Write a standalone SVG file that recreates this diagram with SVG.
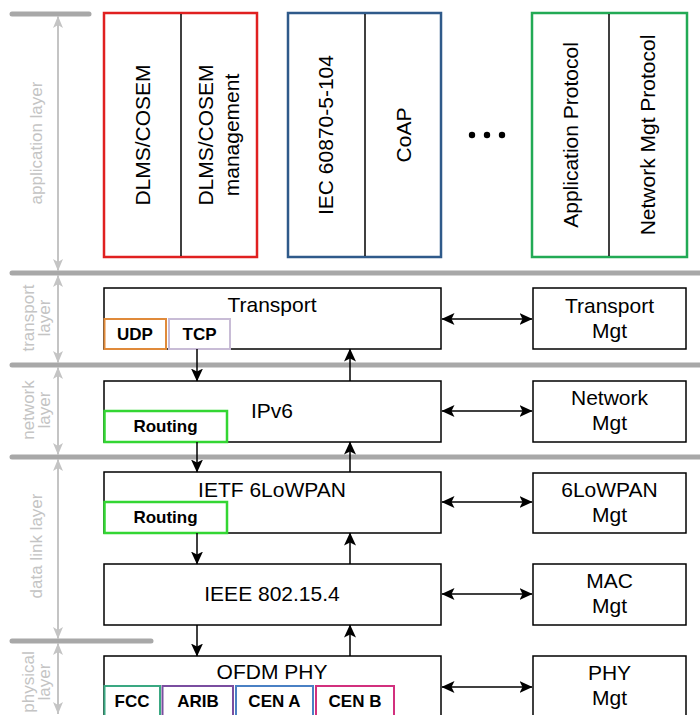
<svg xmlns="http://www.w3.org/2000/svg" width="700" height="715" viewBox="0 0 700 715">
  <defs>
    <marker id="ah" markerUnits="userSpaceOnUse" markerWidth="14" markerHeight="13" refX="12.5" refY="6" orient="auto-start-reverse">
      <path d="M0,0 L13,6 L0,12 L3,6 z" fill="#000"/>
    </marker>
    <marker id="gh" markerUnits="userSpaceOnUse" markerWidth="13" markerHeight="11" refX="12" refY="5" orient="auto-start-reverse">
      <path d="M0,0 L12,5 L0,10 L3,5 z" fill="#c4c4c4"/>
    </marker>
  </defs>
  <style>
    text { font-family: "Liberation Sans", Arial, sans-serif; fill: #000; }
    .big { font-size: 21px; text-anchor: middle; }
    .tag { font-size: 17px; font-weight: bold; text-anchor: middle; }
    .lay { font-size: 17px; fill: #c4c4c4; text-anchor: middle; }
    .box { fill: #fff; stroke: #000; stroke-width: 1.5; }
    .div { stroke: #000; stroke-width: 1.5; }
    .bar { stroke: #a8a8a8; stroke-width: 5; stroke-linecap: round; }
    .span { stroke: #c4c4c4; stroke-width: 2; fill: none; marker-start: url(#gh); marker-end: url(#gh); }
    .flow { stroke: #000; stroke-width: 1.5; fill: none; marker-end: url(#ah); }
    .both { stroke: #000; stroke-width: 1.5; fill: none; marker-start: url(#ah); marker-end: url(#ah); }
  </style>
  <rect width="700" height="715" fill="#fff"/>

  <!-- layer separators -->
  <g id="separators">
    <line class="bar" x1="12" y1="14" x2="89" y2="14"/>
    <line class="bar" x1="12" y1="273" x2="702" y2="273"/>
    <line class="bar" x1="12" y1="365" x2="702" y2="365"/>
    <line class="bar" x1="12" y1="457" x2="702" y2="457"/>
    <line class="bar" x1="12" y1="641" x2="151" y2="641"/>
  </g>

  <!-- layer extents -->
  <g id="layers">
    <line class="span" x1="58" y1="16" x2="58" y2="271"/>
    <text class="lay" transform="translate(42,143) rotate(-90)">application layer</text>
    <line class="span" x1="58" y1="275" x2="58" y2="363"/>
    <text class="lay" transform="translate(34,318) rotate(-90)">transport</text>
    <text class="lay" transform="translate(50,318) rotate(-90)">layer</text>
    <line class="span" x1="58" y1="367" x2="58" y2="455"/>
    <text class="lay" transform="translate(34,410) rotate(-90)">network</text>
    <text class="lay" transform="translate(50,410) rotate(-90)">layer</text>
    <line class="span" x1="58" y1="459" x2="58" y2="639"/>
    <text class="lay" transform="translate(42,546) rotate(-90)">data link layer</text>
    <line class="span" x1="58" y1="643" x2="58" y2="714"/>
    <text class="lay" transform="translate(34,682) rotate(-90)">physical</text>
    <text class="lay" transform="translate(50,682) rotate(-90)">layer</text>
  </g>

  <!-- application layer protocols -->
  <g id="dlms">
    <rect x="104" y="13" width="153" height="244" fill="#fff" stroke="#e02020" stroke-width="2.5"/>
    <line class="div" x1="181" y1="14" x2="181" y2="256"/>
    <text class="big" transform="translate(150,135) rotate(-90)">DLMS/COSEM</text>
    <text class="big" transform="translate(213,135) rotate(-90)">DLMS/COSEM</text>
    <text class="big" transform="translate(239,135) rotate(-90)">management</text>
  </g>
  <g id="iec-coap">
    <rect x="288" y="13" width="153" height="244" fill="#fff" stroke="#2f5a8a" stroke-width="2.5"/>
    <line class="div" x1="365" y1="14" x2="365" y2="256"/>
    <text class="big" transform="translate(333,135) rotate(-90)">IEC 60870-5-104</text>
    <text class="big" transform="translate(411,135) rotate(-90)">CoAP</text>
  </g>
  <g id="ellipsis">
    <circle cx="472" cy="135" r="3.2" fill="#000"/>
    <circle cx="487" cy="135" r="3.2" fill="#000"/>
    <circle cx="502" cy="135" r="3.2" fill="#000"/>
  </g>
  <g id="app-protocol">
    <rect x="532" y="13" width="155" height="244" fill="#fff" stroke="#22aa55" stroke-width="2.5"/>
    <line class="div" x1="609" y1="14" x2="609" y2="256"/>
    <text class="big" transform="translate(578,135) rotate(-90)">Application Protocol</text>
    <text class="big" transform="translate(655,135) rotate(-90)">Network Mgt Protocol</text>
  </g>

  <!-- protocol stack -->
  <g id="transport">
    <rect class="box" x="104" y="288" width="337" height="61"/>
    <text class="big" x="272" y="312">Transport</text>
    <rect x="104.5" y="319" width="61.5" height="30" fill="#fff" stroke="#e08a3a" stroke-width="2"/>
    <text class="tag" x="135" y="340">UDP</text>
    <rect x="169" y="319" width="61" height="30" fill="#fff" stroke="#c8bcd6" stroke-width="2"/>
    <text class="tag" x="199.5" y="340">TCP</text>
  </g>
  <g id="ipv6">
    <rect class="box" x="104" y="381" width="337" height="61"/>
    <text class="big" x="272" y="418">IPv6</text>
    <rect x="104.5" y="411" width="122.5" height="31" fill="#fff" stroke="#33d633" stroke-width="2.5"/>
    <text class="tag" x="165.5" y="432">Routing</text>
  </g>
  <g id="sixlowpan">
    <rect class="box" x="104" y="472" width="337" height="61"/>
    <text class="big" x="272" y="497">IETF 6LoWPAN</text>
    <rect x="104.5" y="502" width="122.5" height="31" fill="#fff" stroke="#33d633" stroke-width="2.5"/>
    <text class="tag" x="165.5" y="523">Routing</text>
  </g>
  <g id="ieee">
    <rect class="box" x="104" y="564" width="337" height="61"/>
    <text class="big" x="272" y="601">IEEE 802.15.4</text>
  </g>
  <g id="ofdm">
    <rect class="box" x="104" y="656" width="337" height="70"/>
    <text class="big" x="272" y="679">OFDM PHY</text>
    <rect x="104.5" y="686" width="55.5" height="35" fill="#fff" stroke="#3aa882" stroke-width="2"/>
    <text class="tag" x="132" y="707">FCC</text>
    <rect x="162.5" y="686" width="70.5" height="35" fill="#fff" stroke="#7a4ea0" stroke-width="2"/>
    <text class="tag" x="198" y="707">ARIB</text>
    <rect x="236" y="686" width="77" height="35" fill="#fff" stroke="#4a80c4" stroke-width="2"/>
    <text class="tag" x="274.5" y="707">CEN A</text>
    <rect x="316" y="686" width="78" height="35" fill="#fff" stroke="#d2307e" stroke-width="2"/>
    <text class="tag" x="355" y="707">CEN B</text>
  </g>

  <!-- management entities -->
  <g id="transport-mgt">
    <rect class="box" x="533" y="288" width="153" height="61"/>
    <text class="big" x="609.5" y="313">Transport</text>
    <text class="big" x="609.5" y="338">Mgt</text>
  </g>
  <g id="network-mgt">
    <rect class="box" x="533" y="381" width="153" height="61"/>
    <text class="big" x="609.5" y="405">Network</text>
    <text class="big" x="609.5" y="430">Mgt</text>
  </g>
  <g id="sixlowpan-mgt">
    <rect class="box" x="533" y="473" width="153" height="60"/>
    <text class="big" x="609.5" y="497">6LoWPAN</text>
    <text class="big" x="609.5" y="522">Mgt</text>
  </g>
  <g id="mac-mgt">
    <rect class="box" x="533" y="564" width="153" height="61"/>
    <text class="big" x="609.5" y="588">MAC</text>
    <text class="big" x="609.5" y="613">Mgt</text>
  </g>
  <g id="phy-mgt">
    <rect class="box" x="533" y="656" width="153" height="70"/>
    <text class="big" x="609.5" y="680">PHY</text>
    <text class="big" x="609.5" y="705">Mgt</text>
  </g>

  <!-- connectors -->
  <g id="connectors">
    <line class="flow" x1="197" y1="349" x2="197" y2="381"/>
    <line class="flow" x1="350" y1="381" x2="350" y2="349"/>
    <line class="flow" x1="197" y1="442" x2="197" y2="472"/>
    <line class="flow" x1="350" y1="472" x2="350" y2="442"/>
    <line class="flow" x1="197" y1="533" x2="197" y2="564"/>
    <line class="flow" x1="350" y1="564" x2="350" y2="533"/>
    <line class="flow" x1="197" y1="625" x2="197" y2="656"/>
    <line class="flow" x1="350" y1="656" x2="350" y2="625"/>
    <line class="both" x1="442" y1="319" x2="532" y2="319"/>
    <line class="both" x1="442" y1="411" x2="532" y2="411"/>
    <line class="both" x1="442" y1="502" x2="532" y2="502"/>
    <line class="both" x1="442" y1="594" x2="532" y2="594"/>
    <line class="both" x1="442" y1="687" x2="532" y2="687"/>
  </g>
</svg>
